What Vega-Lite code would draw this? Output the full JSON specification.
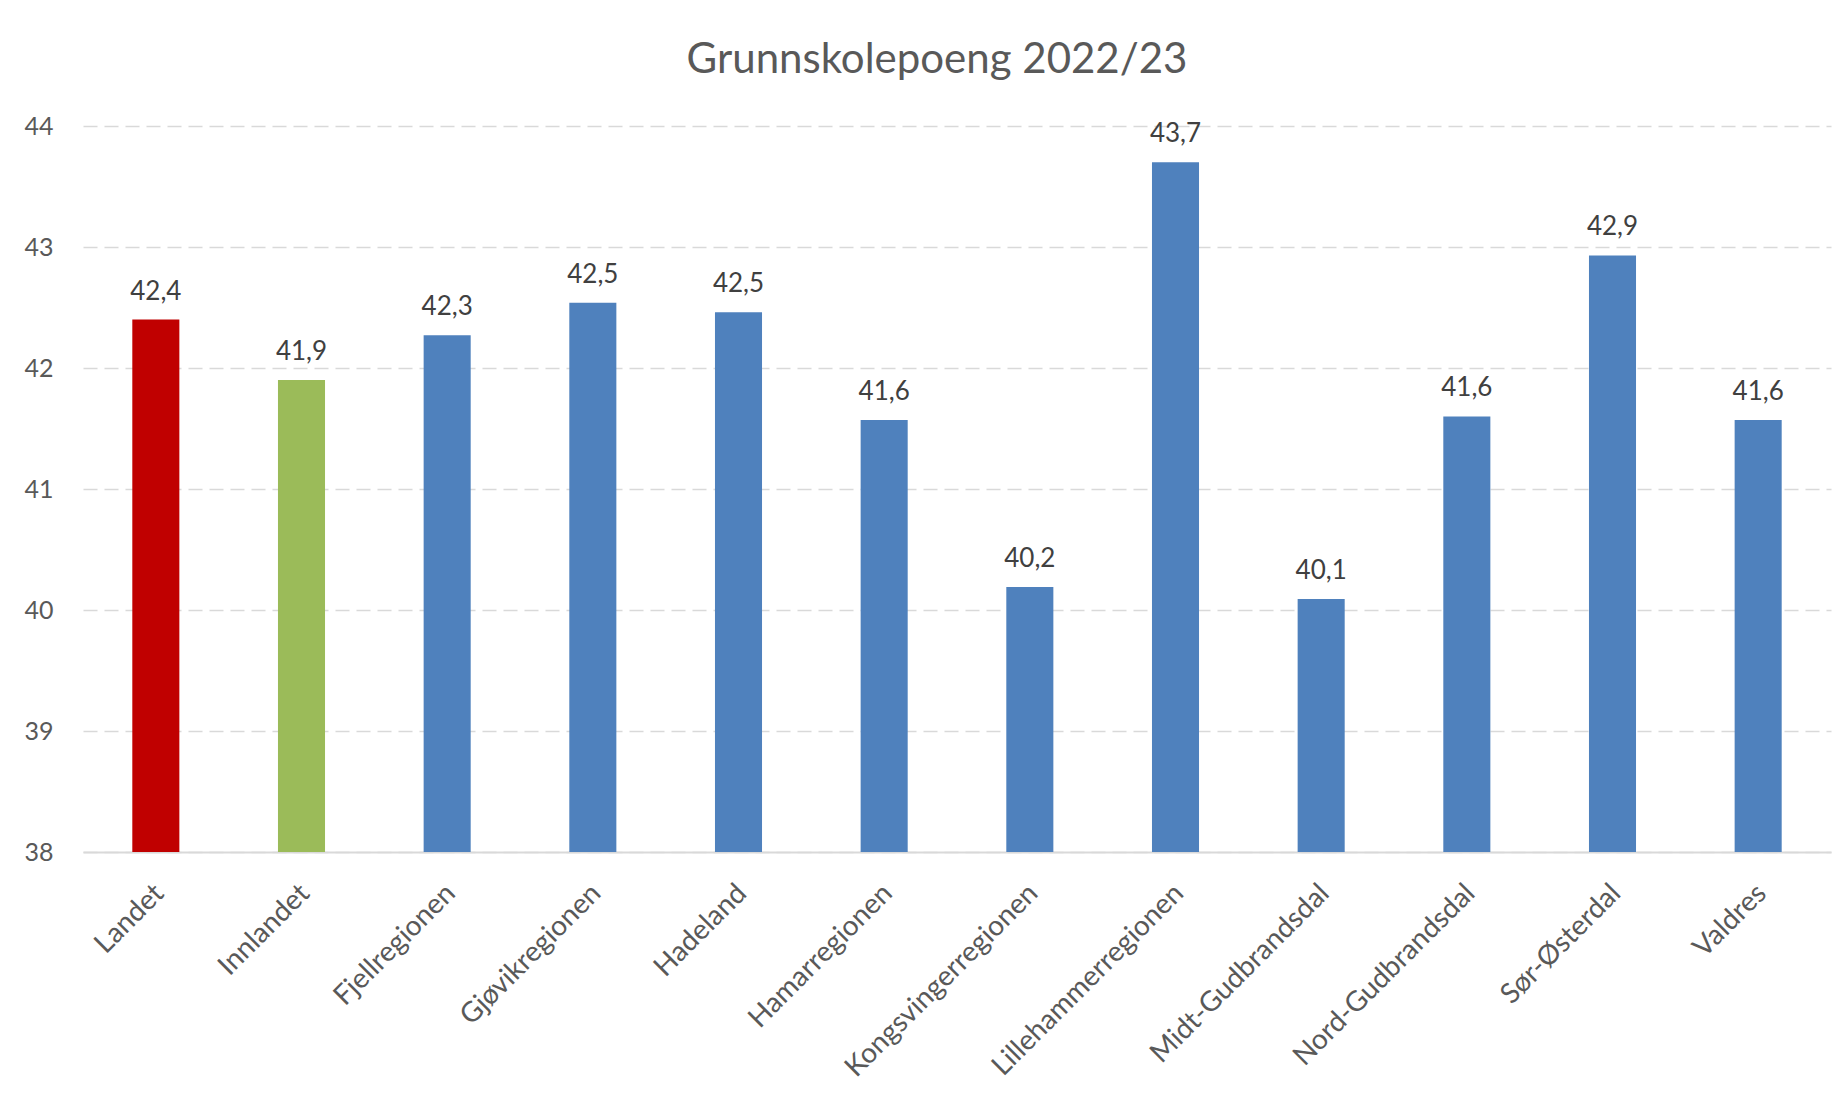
{
  "$schema": "https://vega.github.io/schema/vega-lite/v6.json",
  "autosize": "none",
  "width": 1748,
  "height": 726,
  "padding": {"left": 83, "top": 126, "right": 17, "bottom": 243},
  "background": "white",
  "config": {
    "locale": {"number": {"decimal": ",", "thousands": " ", "grouping": [3], "currency": ["", " kr"]}},
    "view": {"stroke": null},
    "font": "Lato"
  },
  "title": {
    "text": "Grunnskolepoeng 2022/23",
    "fontSize": 42,
    "fontWeight": "normal",
    "color": "#595959",
    "font": "Lato",
    "anchor": "middle",
    "frame": "group",
    "offset": 32,
    "dx": -20
  },
  "data": {
    "values": [
      {"region": "Landet", "gruppe": "Landet", "poeng": 42.4},
      {"region": "Innlandet", "gruppe": "Innlandet", "poeng": 41.9},
      {"region": "Fjellregionen", "gruppe": "Region", "poeng": 42.27},
      {"region": "Gjøvikregionen", "gruppe": "Region", "poeng": 42.54},
      {"region": "Hadeland", "gruppe": "Region", "poeng": 42.46},
      {"region": "Hamarregionen", "gruppe": "Region", "poeng": 41.57},
      {"region": "Kongsvingerregionen", "gruppe": "Region", "poeng": 40.19},
      {"region": "Lillehammerregionen", "gruppe": "Region", "poeng": 43.7},
      {"region": "Midt-Gudbrandsdal", "gruppe": "Region", "poeng": 40.09},
      {"region": "Nord-Gudbrandsdal", "gruppe": "Region", "poeng": 41.6},
      {"region": "Sør-Østerdal", "gruppe": "Region", "poeng": 42.93},
      {"region": "Valdres", "gruppe": "Region", "poeng": 41.57}
    ]
  },
  "encoding": {
    "x": {
      "field": "region",
      "type": "nominal",
      "sort": null,
      "scale": {"paddingInner": 0.677, "paddingOuter": 0.3385},
      "axis": {
        "title": null,
        "labelAngle": -45,
        "labelFontSize": 28,
        "labelColor": "#595959",
        "labelPadding": 27,
        "labelOffset": -6,
        "ticks": false,
        "domainColor": "#d9d9d9",
        "domainWidth": 2,
        "labelLimit": 400
      }
    },
    "y": {
      "field": "poeng",
      "type": "quantitative",
      "scale": {"domain": [38, 44], "zero": false, "nice": false},
      "axis": {
        "title": null,
        "values": [38, 39, 40, 41, 42, 43, 44],
        "domain": false,
        "ticks": false,
        "labelPadding": 30,
        "labelFontSize": 25,
        "labelColor": "#595959",
        "gridColor": "#d9d9d9",
        "gridDash": [14, 7],
        "gridWidth": 1.5,
        "format": "d"
      }
    }
  },
  "layer": [
    {
      "mark": {"type": "bar", "clip": true},
      "encoding": {
        "color": {
          "field": "gruppe",
          "type": "nominal",
          "scale": {"domain": ["Landet", "Innlandet", "Region"], "range": ["#C00000", "#9BBB59", "#4F81BD"]},
          "legend": null
        }
      }
    },
    {
      "mark": {"type": "text", "baseline": "bottom", "dy": -15, "fontSize": 26, "color": "#404040"},
      "encoding": {"text": {"field": "poeng", "type": "quantitative", "format": ".1f"}}
    }
  ]
}
